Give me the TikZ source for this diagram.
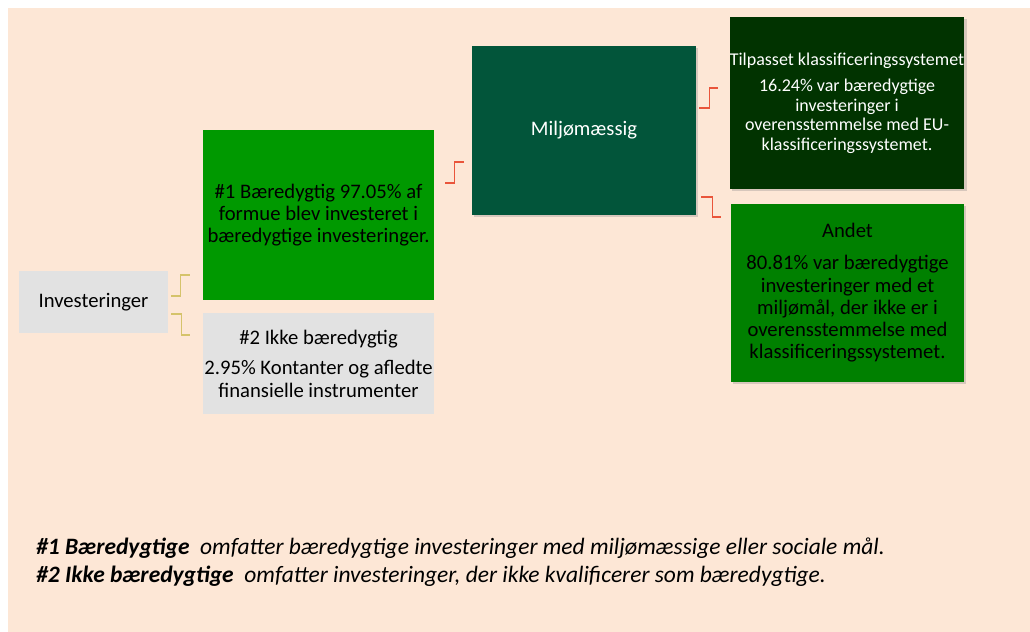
\documentclass[tikz,border=0pt]{standalone}
\usepackage{fontspec}
\setmainfont{Carlito}
\usetikzlibrary{shadows}
\definecolor{peach}{HTML}{FDE7D6}
\definecolor{boxgray}{HTML}{E2E2E2}
\definecolor{brightgreen}{HTML}{009900}
\definecolor{pinegreen}{HTML}{02553A}
\definecolor{nightgreen}{HTML}{013300}
\definecolor{midgreen}{HTML}{008000}
\definecolor{khaki}{HTML}{D5C36B}
\definecolor{redline}{HTML}{E9553B}
\begin{document}
\begin{tikzpicture}[
    box/.style={inner sep=0pt, align=center, font=\fontsize{14.7}{15.8}\selectfont},
    shadowbox/.style={box, drop shadow={shadow xshift=0.06cm, shadow yshift=-0.06cm, opacity=0.3}},
    yconn/.style={line width=0.035cm, draw=khaki},
    rconn/.style={line width=0.035cm, draw=redline}]
                    % Drawing background
                    \fill [white] (0.000000,0.000000) rectangle (25.750000,15.800000);%
                    \fill [peach] (0.200000,0.000000) rectangle (25.750000,15.600000);%

                    % Marking box Investeringer
                    \node [box, fill=boxgray, minimum width=3.725cm, minimum height=1.550cm] (inv) at (2.337500,8.250000) {Investeringer};%

                    % Marking box #1
                    \node [box, fill=brightgreen, minimum width=5.775cm, minimum height=4.250cm] (b1) at (7.962500,10.425000) {\#1 Bæredygtig 97.05\% af\\formue blev investeret i\\bæredygtige investeringer.};%

                    % Marking box #2
                    \node [box, fill=boxgray, minimum width=5.775cm, minimum height=2.525cm] (b2) at (7.962500,6.712500) {\#2 Ikke bæredygtig\\[6pt]2.95\% Kontanter og afledte\\finansielle instrumenter};%

                    % Marking box Miljømæssig
                    \node [shadowbox, fill=pinegreen, text=white, minimum width=5.600cm, minimum height=4.225cm] (milj) at (14.600000,12.537500) {Miljømæssig};%

                    % Marking box Tilpasset
                    \node [shadowbox, fill=nightgreen, text=white, font=\fontsize{12.8}{13.9}\selectfont, minimum width=5.800cm, minimum height=4.300cm] (tilp) at (21.175000,13.225000) {Tilpasset klassificeringssystemet\\[5pt]16.24\% var bæredygtige\\investeringer i\\overensstemmelse med EU-\\klassificeringssystemet.};%

                    % Marking box Andet
                    \node [shadowbox, fill=midgreen, minimum width=5.825cm, minimum height=4.450cm] (andet) at (21.187500,8.475000) {Andet\\[7pt]80.81\% var bæredygtige\\investeringer med et\\miljømål, der ikke er i\\overensstemmelse med\\klassificeringssystemet.};%

                    % Drawing line inv b1
                    \draw [yconn] ([shift={(0.075,0.150)}]inv.east) -- ++(0.2375,0) |- ([shift={(-0.325,-1.500)}]b1.west);%

                    % Drawing line inv b2
                    \draw [yconn] ([shift={(0.075,-0.300)}]inv.east) -- ++(0.2500,0) |- ([shift={(-0.325,0.7125)}]b2.west);%

                    % Drawing line b1 milj
                    \draw [rconn] ([shift={(0.275,0.800)}]b1.east) -- ++(0.2250,0) |- ([shift={(-0.200,-0.7875)}]milj.west);%

                    % Drawing line milj tilp
                    \draw [rconn] ([shift={(0.075,0.5625)}]milj.east) -- ++(0.2500,0) |- ([shift={(-0.300,0.375)}]tilp.west);%

                    % Drawing line milj andet
                    \draw [rconn] ([shift={(0.125,-1.6625)}]milj.east) -- ++(0.2750,0) |- ([shift={(-0.250,1.900)}]andet.west);%

                    % Marking notes
                    \node [anchor=base west, inner sep=0pt, font=\fontsize{16.7}{20}\selectfont\itshape] (note1) at (0.900000,1.925000) {\textbf{\#1 Bæredygtige}\ \ omfatter bæredygtige investeringer med miljømæssige eller sociale mål.};%
                    \node [anchor=base west, inner sep=0pt, font=\fontsize{16.7}{20}\selectfont\itshape] (note2) at (0.900000,1.225000) {\textbf{\#2 Ikke bæredygtige}\ \ omfatter investeringer, der ikke kvalificerer som bæredygtige.};%
\end{tikzpicture}
\end{document}
